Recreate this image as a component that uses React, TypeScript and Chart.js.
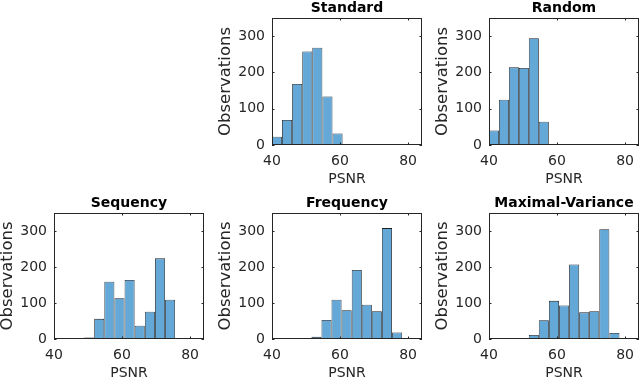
import React, { useEffect, useRef } from 'react';
import { Chart, registerables } from 'chart.js';

Chart.register(...registerables);

// ---- data ----
const xMin = 40;
const xMax = 84.1;
const yMax = 350;
const xStep = 20;
const yStep = 100;
const xLabel = 'PSNR';
const yLabel = 'Observations';

const standardEdges = [40.0, 42.95, 45.9, 48.9, 51.85, 54.8, 57.8, 60.75];
const standardCounts = [23, 69, 168, 258, 268, 134, 32];

const randomEdges = [40.0, 42.93, 45.86, 48.79, 51.72, 54.65, 57.58, 60.51];
const randomCounts = [40, 125, 214, 212, 294, 64, 2];

const sequencyEdges = [48.8, 51.8, 54.8, 57.75, 60.75, 63.7, 66.7, 69.7, 72.65, 75.6];
const sequencyCounts = [4, 56, 159, 113, 164, 37, 76, 224, 109];

const frequencyEdges = [51.6, 54.55, 57.5, 60.45, 63.45, 66.4, 69.35, 72.3, 75.3, 78.25];
const frequencyCounts = [6, 53, 109, 80, 192, 95, 77, 308, 18];

const maxVarEdges = [51.7, 54.65, 57.6, 60.6, 63.55, 66.5, 69.45, 72.4, 75.4, 78.35];
const maxVarCounts = [11, 52, 106, 93, 207, 74, 77, 305, 17];

// ---- styles ----
const FONT = 'DejaVu Sans';
const AXIS_COLOR = 'rgb(38,38,38)';
const BAR_FILL = 'rgb(100,168,215)';
const BAR_EDGE = 'rgb(25,30,35)';

const Y_AXIS_W = 56;
const X_AXIS_H = 43;
const TITLE_H = 18;
const RIGHT_PAD = 2;
const AREA_W = 150;

const boxPlugin = {
  id: 'matlabBox',
  afterDatasetsDraw(chart: any) {
    const { ctx, chartArea: a, scales } = chart;
    const xs = scales.x;
    const ys = scales.y;
    ctx.save();
    ctx.strokeStyle = AXIS_COLOR;
    ctx.lineWidth = 1;
    ctx.strokeRect(a.left + 0.5, a.top + 0.5, a.right - a.left - 1, a.bottom - a.top - 1);
    const tl = 2.5;
    ctx.beginPath();
    xs.ticks.forEach((t: any) => {
      const px = Math.round(xs.getPixelForValue(t.value)) + 0.5;
      ctx.moveTo(px, a.bottom);
      ctx.lineTo(px, a.bottom - tl);
      ctx.moveTo(px, a.top);
      ctx.lineTo(px, a.top + tl);
    });
    ys.ticks.forEach((t: any) => {
      const py = Math.round(ys.getPixelForValue(t.value)) + 0.5;
      ctx.moveTo(a.left, py);
      ctx.lineTo(a.left + tl, py);
      ctx.moveTo(a.right, py);
      ctx.lineTo(a.right - tl, py);
    });
    ctx.stroke();
    ctx.restore();
  },
};

type HistProps = {
  title: string;
  edges: number[];
  counts: number[];
  left: number;
  top: number;
  areaH: number;
};

function Hist({ title, edges, counts, left, top, areaH }: HistProps) {
  const ref = useRef<HTMLCanvasElement | null>(null);
  const width = Y_AXIS_W + AREA_W + RIGHT_PAD;
  const height = TITLE_H + areaH + X_AXIS_H;

  useEffect(() => {
    if (!ref.current) return;
    const points = counts.map((c, i) => ({ x: (edges[i] + edges[i + 1]) / 2, y: c }));
    const chart = new Chart(ref.current, {
      type: 'bar',
      data: {
        datasets: [
          {
            data: points as any,
            backgroundColor: BAR_FILL,
            borderColor: BAR_EDGE,
            borderWidth: 0.8,
            borderSkipped: false,
            barPercentage: 1,
            categoryPercentage: 1,
            inflateAmount: 0,
          } as any,
        ],
      },
      options: {
        animation: false,
        responsive: false,
        maintainAspectRatio: false,
        events: [],
        layout: { padding: { left: 0, right: RIGHT_PAD, top: 0, bottom: 0 } },
        plugins: {
          legend: { display: false },
          tooltip: { enabled: false },
          title: {
            display: true,
            text: title,
            color: '#000',
            fullSize: false,
            font: { family: FONT, size: 14, weight: 'bold', lineHeight: 1.2 },
            padding: { top: 0, bottom: TITLE_H - 16.8 },
          },
        },
        scales: {
          x: {
            type: 'linear',
            min: xMin,
            max: xMax,
            offset: false,
            grid: { display: false, drawTicks: false, tickLength: 0 },
            border: { display: false },
            ticks: {
              stepSize: xStep,
              includeBounds: false,
              padding: 8,
              maxRotation: 0,
              autoSkip: false,
              color: AXIS_COLOR,
              font: { family: FONT, size: 14, lineHeight: 1.2 },
            },
            title: {
              display: true,
              text: xLabel,
              color: AXIS_COLOR,
              padding: 0,
              font: { family: FONT, size: 14, lineHeight: 1.2 },
            },
            afterFit: (s: any) => {
              s.height = X_AXIS_H;
              s.paddingLeft = 0;
              s.paddingRight = 0;
            },
          },
          y: {
            type: 'linear',
            min: 0,
            max: yMax,
            grid: { display: false, drawTicks: false, tickLength: 0 },
            border: { display: false },
            ticks: {
              stepSize: yStep,
              includeBounds: false,
              padding: 7,
              color: AXIS_COLOR,
              font: { family: FONT, size: 14, lineHeight: 1.2 },
            },
            title: {
              display: true,
              text: yLabel,
              color: AXIS_COLOR,
              padding: 0,
              font: { family: FONT, size: 16.5, lineHeight: 1.2 },
            },
            afterFit: (s: any) => {
              s.width = Y_AXIS_W;
              s.paddingTop = 0;
              s.paddingBottom = 0;
            },
          },
        },
      } as any,
      plugins: [boxPlugin],
    });
    return () => chart.destroy();
  }, []);

  return (
    <canvas
      ref={ref}
      width={width}
      height={height}
      style={{ position: 'absolute', left, top, width, height }}
    />
  );
}

export default function App() {
  return (
    <div
      style={{
        position: 'absolute',
        left: 0,
        top: 0,
        width: 640,
        height: 381,
        overflow: 'hidden',
        background: '#fff',
      }}
    >
      <Hist title="Standard" edges={standardEdges} counts={standardCounts} left={272 - Y_AXIS_W} top={0} areaH={127} />
      <Hist title="Random" edges={randomEdges} counts={randomCounts} left={489 - Y_AXIS_W} top={0} areaH={127} />
      <Hist title="Sequency" edges={sequencyEdges} counts={sequencyCounts} left={54 - Y_AXIS_W} top={195} areaH={126} />
      <Hist title="Frequency" edges={frequencyEdges} counts={frequencyCounts} left={272 - Y_AXIS_W} top={195} areaH={126} />
      <Hist title="Maximal-Variance" edges={maxVarEdges} counts={maxVarCounts} left={489 - Y_AXIS_W} top={195} areaH={126} />
    </div>
  );
}
